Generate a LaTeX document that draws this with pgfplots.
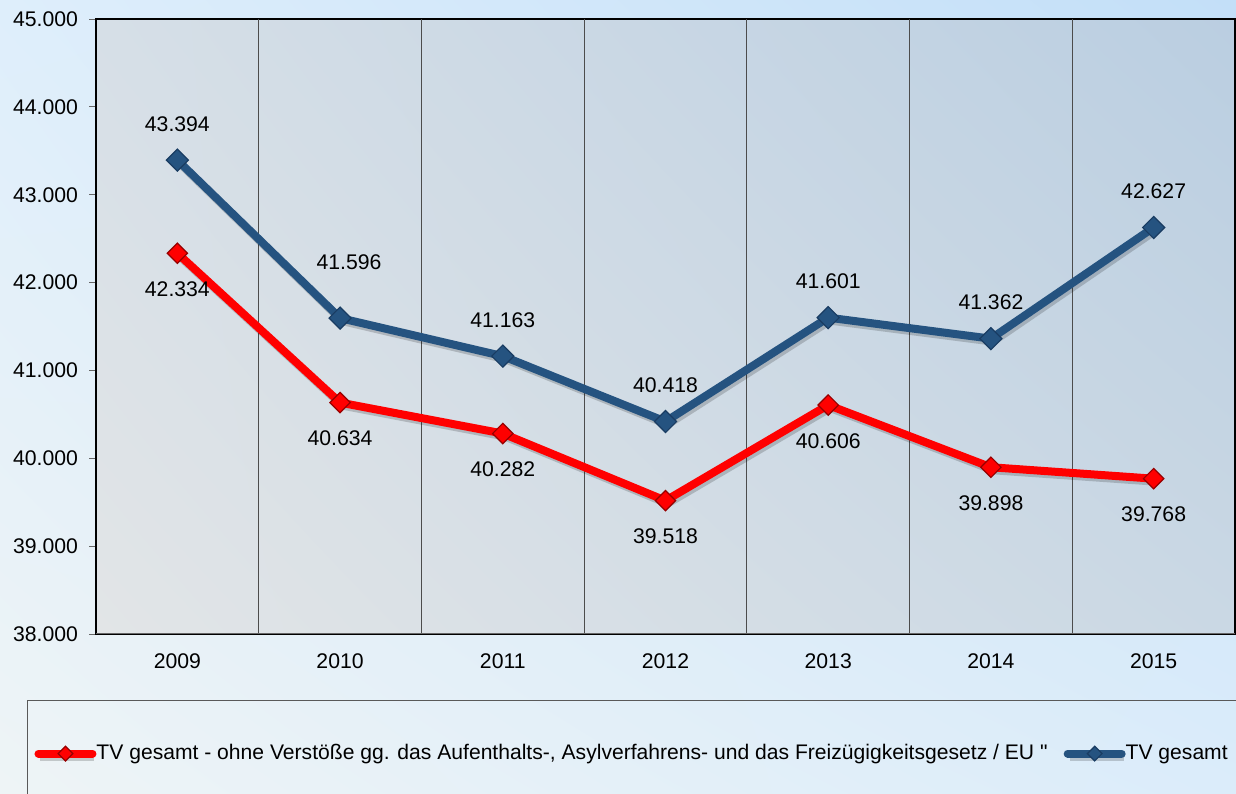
\documentclass[border=0pt]{standalone}
\usepackage{fontspec}
\setmainfont{Liberation Sans}[Ligatures=TeXOff]
\usepackage{pgfplots}
\usepackage{pgfplotstable}
\pgfplotsset{compat=1.18}
\usetikzlibrary{shadings}

\definecolor{tvblue}{RGB}{37,83,128}
\definecolor{tvbluedark}{RGB}{25,60,98}
\definecolor{tvred}{RGB}{255,0,0}
\definecolor{tvreddark}{RGB}{150,0,0}

\pgfplotstableread{
x y dx dy
0 43394 0 18
1 41596 4.5 28
2 41163 0 18
3 40418 0 18
4 41601 0 18
5 41362 0 18
6 42627 0 18
}\gesamt

\pgfplotstableread{
x y
0 42334
1 40634
2 40282
3 39518
4 40606
5 39898
6 39768
}\ohne

\newcommand{\chfont}{\fontsize{10.6bp}{12.7bp}\selectfont}
\newcommand{\legfont}{\fontsize{10.55bp}{12.6bp}\selectfont}

\begin{document}
\begin{tikzpicture}[font=\chfont]
\path[use as bounding box, clip] (0,0) rectangle (618bp,397bp);
\shade[upper left={rgb,255:red,222;green,238;blue,251},
       upper right={rgb,255:red,195;green,223;blue,248},
       lower left={rgb,255:red,238;green,244;blue,246},
       lower right={rgb,255:red,219;green,236;blue,250}]
  (0,0) rectangle (618bp,397bp);
\begin{axis}[
  at={(48bp,80bp)}, anchor=south west,
  width=569.5bp, height=307.5bp, scale only axis,
  font=\chfont,
  xmin=-0.5, xmax=6.5,
  ymin=38000, ymax=45000,
  ytick={38000,39000,...,45000},
  xtick={0,...,6},
  xticklabels={2009,2010,2011,2012,2013,2014,2015},
  scaled y ticks=false,
  /pgf/number format/.cd, fixed, precision=0, 1000 sep={.}, assume math mode=true,
  /pgfplots/.cd,
  ytick pos=left,
  tick align=outside,
  major tick length=3.5bp,
  ytick style={gray!80!black, line width=0.5bp},
  xtick style={draw=none},
  tick label style={font=\chfont},
  xticklabel style={yshift=-3bp},
  yticklabel style={xshift=-2bp},
  extra x ticks={0.5,1.5,2.5,3.5,4.5,5.5},
  extra x tick labels={},
  extra x tick style={grid=major, major grid style={gray!60!black, line width=0.5bp}, xtick style={draw=none}},
  axis line style={black, line width=0.6bp},
  axis background/.style={shade,
     upper left={rgb,255:red,214;green,223;blue,231},
     upper right={rgb,255:red,186;green,206;blue,225},
     lower left={rgb,255:red,226;green,229;blue,231},
     lower right={rgb,255:red,202;green,216;blue,228}},
  legend columns=2,
  legend style={at={(-0.0606,-0.1073)}, anchor=north west,
     draw=gray!70!black, line width=0.5bp, fill=none, font=\legfont,
     inner xsep=3.5bp, inner ysep=20bp,
     nodes={inner xsep=0bp},
     /tikz/every even column/.append style={column sep=8bp}},
  legend image code/.code={
     \draw[#1, line cap=round, mark size=2.6bp, mark repeat=2, mark phase=2] plot coordinates {(1.5bp,0bp) (15bp,0bp) (28.5bp,0bp)};},
  nodes near coords style={font=\chfont, anchor=center, text=black},
]
\addplot[color=tvred, line width=4bp,
   preaction={draw=black, opacity=0.18, line width=4bp, transform canvas={xshift=1bp,yshift=-1.5bp}},
   mark=square*, mark size=3.6bp,
   mark options={rotate=45, fill=tvred, draw=tvreddark, line width=0.6bp, solid},
   nodes near coords,
   every node near coord/.append style={yshift=-18bp}]
  table[x=x, y=y] {\ohne};
\addlegendentry{TV gesamt - ohne Verstöße gg. das Aufenthalts-, Asylverfahrens- und das Freizügigkeitsgesetz / EU "}
\addplot[color=tvblue, line width=4bp,
   preaction={draw=black, opacity=0.18, line width=4bp, transform canvas={xshift=1bp,yshift=-1.5bp}},
   mark=square*, mark size=3.9bp,
   mark options={rotate=45, fill=tvblue, draw=tvbluedark, line width=0.6bp, solid},
   nodes near coords,
   visualization depends on={\thisrow{dx}\as\mydx},
   visualization depends on={\thisrow{dy}\as\mydy},
   every node near coord/.append style={xshift=\mydx bp, yshift=\mydy bp}]
  table[x=x, y=y] {\gesamt};
\addlegendentry{TV gesamt\hspace*{20bp}}
\draw[gray!80!black, line width=1.2bp] (rel axis cs:0,0) -- (rel axis cs:1,0);
\end{axis}
\end{tikzpicture}
\end{document}
